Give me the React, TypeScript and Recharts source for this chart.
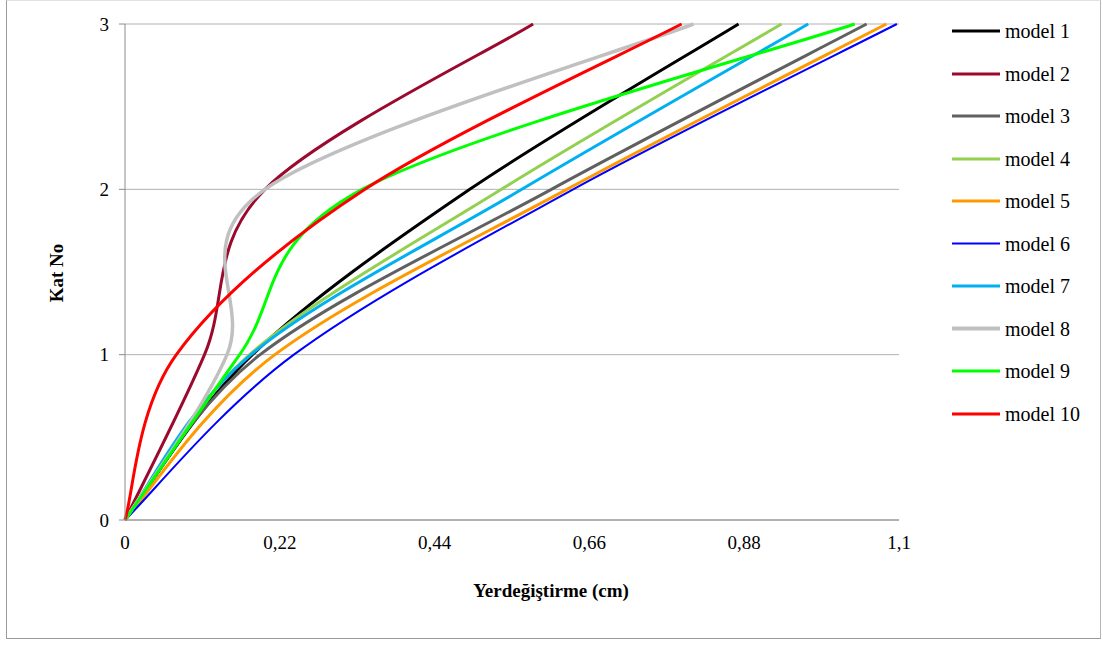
import React from "react";
import { LineChart, Line, XAxis, YAxis, CartesianGrid } from "recharts";

const floors = [0, 1, 2, 3];
const xTicks = [0, 0.22, 0.44, 0.66, 0.88, 1.1];
const yTicks = [0, 1, 2, 3];

const model1 = [0, 0.181, 0.49, 0.872];
const model2 = [0, 0.113, 0.199, 0.58];
const model3 = [0, 0.192, 0.606, 1.054];
const model4 = [0, 0.177, 0.535, 0.933];
const model5 = [0, 0.213, 0.628, 1.082];
const model6 = [0, 0.24, 0.637, 1.097];
const model7 = [0, 0.179, 0.564, 0.971];
const model8 = [0, 0.145, 0.199, 0.808];
const model9 = [0, 0.163, 0.337, 1.037];
const model10 = [0, 0.073, 0.341, 0.791];

const seriesNames = ["model 1", "model 2", "model 3", "model 4", "model 5", "model 6", "model 7", "model 8", "model 9", "model 10"];
const seriesValues = [model1, model2, model3, model4, model5, model6, model7, model8, model9, model10];
const seriesColors = ["#000000", "#9B0A2E", "#606060", "#92D050", "#FF9900", "#0000FF", "#00B0F0", "#C0C0C0", "#00FF00", "#FF0000"];
const seriesWidths = [3, 3, 3, 3, 3, 2, 3, 3.5, 3, 3];

const series = seriesNames.map((name, i) => ({
  name,
  color: seriesColors[i],
  width: seriesWidths[i],
  data: floors.map((f, j) => ({ x: seriesValues[i][j], y: f })),
}));

// Excel-like smoothed curve (Catmull-Rom, 1/6 tangent factor)
const excelSmooth: any = (context: any) => {
  let pts: number[][] = [];
  return {
    areaStart() {},
    areaEnd() {},
    lineStart() {
      pts = [];
    },
    point(x: number, y: number) {
      pts.push([+x, +y]);
    },
    lineEnd() {
      const n = pts.length;
      if (!n) return;
      context.moveTo(pts[0][0], pts[0][1]);
      for (let i = 0; i < n - 1; i++) {
        const p0 = pts[Math.max(i - 1, 0)];
        const p1 = pts[i];
        const p2 = pts[i + 1];
        const p3 = pts[Math.min(i + 2, n - 1)];
        context.bezierCurveTo(
          p1[0] + (p2[0] - p0[0]) / 6,
          p1[1] + (p2[1] - p0[1]) / 6,
          p2[0] - (p3[0] - p1[0]) / 6,
          p2[1] - (p3[1] - p1[1]) / 6,
          p2[0],
          p2[1]
        );
      }
    },
  };
};

const FONT = '"Liberation Serif", "Times New Roman", serif';
const FS = 19;

export default function App() {
  return (
    <div style={{ position: "absolute", left: 0, top: 0, width: 1103, height: 646, background: "#fff", fontFamily: FONT }}>
      <div
        style={{
          position: "absolute",
          left: 6,
          top: 0,
          width: 1095,
          height: 639,
          borderTop: "1px solid #e2e2e2",
          borderLeft: "1px solid #9a9a9a",
          borderBottom: "1px solid #9a9a9a",
          borderRight: "1px solid #b5b5b5",
          boxSizing: "border-box",
        }}
      />
      <div style={{ position: "absolute", left: 0, top: 0 }}>
        <LineChart width={1103} height={646} margin={{ top: 24, right: 204, bottom: 86, left: 65 }}>
          <CartesianGrid vertical={false} stroke="#b0b0b0" strokeWidth={1} />
          <XAxis
            type="number"
            dataKey="x"
            domain={[0, 1.1]}
            ticks={xTicks}
            allowDuplicatedCategory={false}
            tickLine={false}
            tickSize={0}
            tickMargin={16}
            height={40}
            axisLine={{ stroke: "#8c8c8c" }}
            tick={{ fill: "#000", fontSize: FS, fontFamily: FONT }}
            tickFormatter={(v: number) => String(v).replace(".", ",")}
            interval={0}
          />
          <YAxis
            type="number"
            dataKey="y"
            domain={[0, 3]}
            ticks={yTicks}
            width={60}
            tickSize={6}
            tickMargin={10}
            axisLine={{ stroke: "#8c8c8c" }}
            tickLine={{ stroke: "#8c8c8c" }}
            tick={{ fill: "#000", fontSize: FS, fontFamily: FONT }}
            interval={0}
          />
          {series.map((s) => (
            <Line
              key={s.name}
              data={s.data}
              dataKey="y"
              name={s.name}
              type={excelSmooth}
              stroke={s.color}
              strokeWidth={s.width}
              dot={false}
              activeDot={false}
              isAnimationActive={false}
            />
          ))}
        </LineChart>
      </div>
      <div
        style={{
          position: "absolute",
          left: 57,
          top: 273,
          transform: "translate(-50%, -50%) rotate(-90deg)",
          fontWeight: "bold",
          fontSize: FS,
          whiteSpace: "nowrap",
        }}
      >
        Kat No
      </div>
      <div
        style={{
          position: "absolute",
          left: 551,
          top: 591,
          transform: "translate(-50%, -50%)",
          fontWeight: "bold",
          fontSize: FS,
          whiteSpace: "nowrap",
        }}
      >
        Yerdeğiştirme (cm)
      </div>
      {series.map((s, i) => (
        <div
          key={s.name}
          style={{
            position: "absolute",
            left: 952,
            top: 31 + i * 42.5,
            transform: "translateY(-50%)",
            display: "flex",
            alignItems: "center",
            fontSize: 20,
            whiteSpace: "nowrap",
          }}
        >
          <div style={{ width: 48, height: s.width, background: s.color, marginRight: 5 }} />
          <span>{s.name}</span>
        </div>
      ))}
    </div>
  );
}
